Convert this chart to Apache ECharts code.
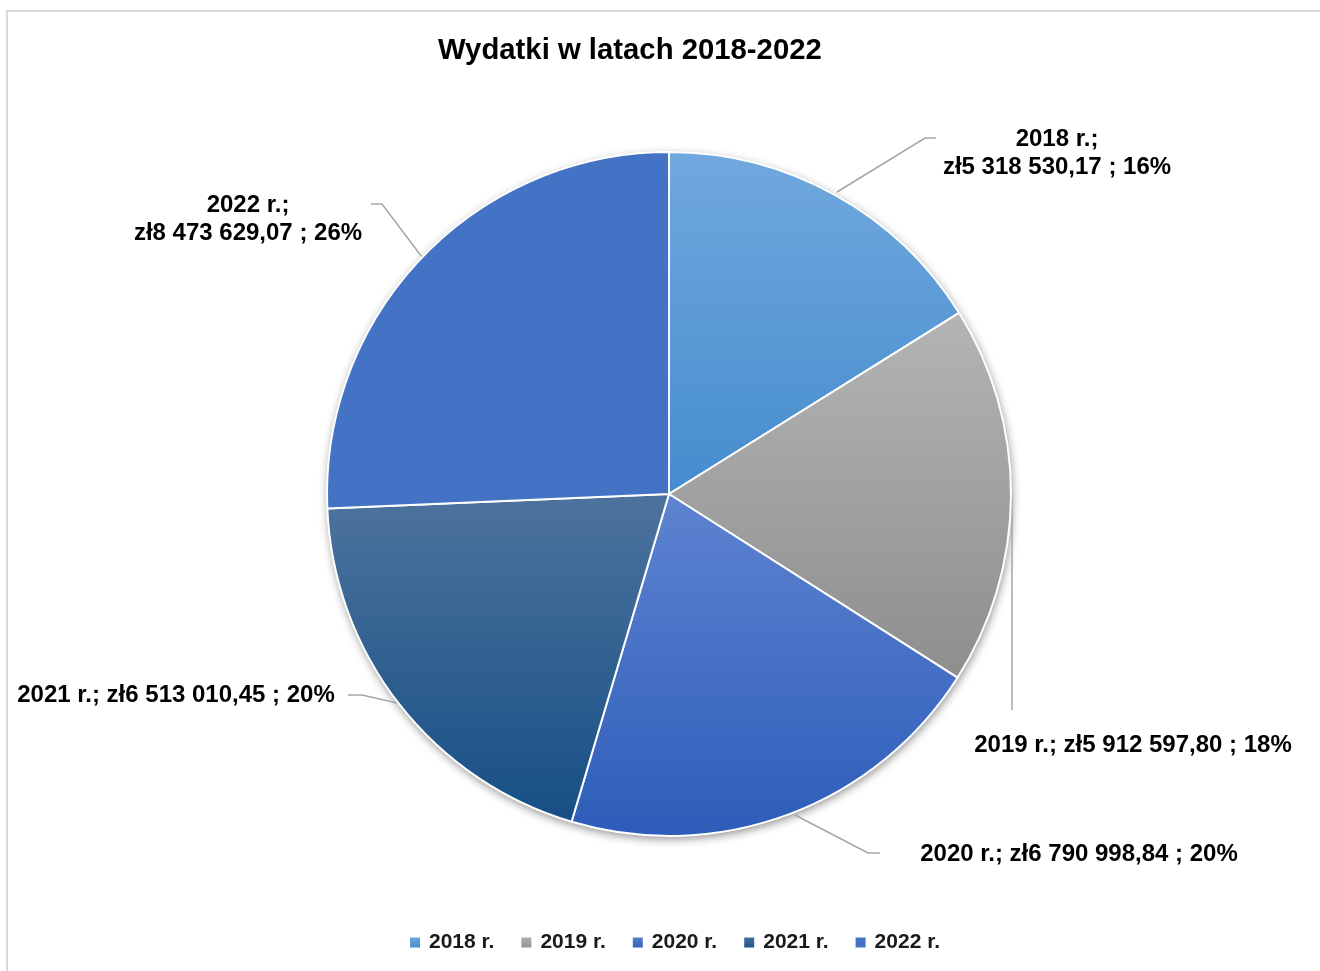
<!DOCTYPE html>
<html>
<head>
<meta charset="utf-8">
<script src="https://cdn.jsdelivr.net/npm/echarts@6/dist/echarts.min.js"></script>
<style>
html,body{margin:0;padding:0;background:#fff;}
#chart{width:1320px;height:971px;}
</style>
</head>
<body>
<div id="chart"></div>
<script>
// ---- data ----
const categories = ['2018 r.', '2019 r.', '2020 r.', '2021 r.', '2022 r.'];
const values = [5318530.17, 5912597.80, 6790998.84, 6513010.45, 8473629.07];
const percentLabels = ['16%', '18%', '20%', '20%', '26%'];
const titleText = 'Wydatki w latach 2018-2022';
const currency = 'zł';

// ---- styles / layout ----
const gradients = [
  ['#71a8de', '#448ccd'],
  ['#b4b4b4', '#8e8e8e'],
  ['#5e83d1', '#2d5db9'],
  ['#4d739d', '#164f85'],
  ['#4472c4', '#4472c4']
];
const labelLayoutCfg = [
  { x: 1057, y: 153, wrap: true,  line: [[837,192],[925,138],[936,138]] },
  { x: 1133, y: 745, wrap: false, line: [[1012,494],[1012,710]] },
  { x: 1079, y: 854, wrap: false, line: [[795,815],[868,853],[880,853]] },
  { x: 176,  y: 695, wrap: false, line: [[397,703],[362,695],[348,695]] },
  { x: 248,  y: 219, wrap: true,  line: [[422,257],[382,204],[371,204]] }
];

function fmtMoney(v) {
  const parts = v.toFixed(2).split('.');
  const intPart = parts[0].replace(/\B(?=(\d{3})+(?!\d))/g, ' ');
  return intPart + ',' + parts[1];
}

const FONT = '"Liberation Sans", Arial, sans-serif';

const chart = echarts.init(document.getElementById('chart'), null, { renderer: 'canvas' });

const pieData = categories.map((c, i) => ({
  name: c,
  value: values[i],
  itemStyle: {
    color: new echarts.graphic.LinearGradient(0, 0, 0, 1, [
      { offset: 0, color: gradients[i][0] },
      { offset: 1, color: gradients[i][1] }
    ])
  }
}));

chart.setOption({
  animation: false,
  backgroundColor: '#ffffff',
  graphic: [{
    type: 'rect',
    shape: { x: 7, y: 11, width: 1400, height: 1100 },
    style: { fill: 'none', stroke: '#d9d9d9', lineWidth: 2 },
    z: -10, silent: true
  }],
  title: {
    text: titleText,
    left: 438,
    top: 36,
    padding: 0,
    textStyle: { fontFamily: FONT, fontSize: 29.3, fontWeight: 'bold', color: '#000' }
  },
  legend: {
    data: categories,
    left: 408,
    top: 932,
    padding: 0,
    itemGap: 25,
    itemWidth: 12,
    itemHeight: 12,
    icon: 'rect',
    textStyle: { fontFamily: FONT, fontSize: 21, fontWeight: 'bold', color: '#1a1a1a', padding: [0, 0, 0, 3] }
  },
  series: [
    {
      type: 'pie',
      name: 'shadow',
      silent: true,
      center: [669, 494],
      radius: 342,
      z: 1,
      label: { show: false },
      labelLine: { show: false },
      data: [{ value: 1, name: '__bg', itemStyle: {
        color: '#ffffff', shadowBlur: 10, shadowColor: 'rgba(0,0,0,0.45)', shadowOffsetX: 1, shadowOffsetY: 3
      } }]
    },
    {
      type: 'pie',
      center: [669, 494],
      radius: 342,
      startAngle: 90,
      clockwise: true,
      z: 2,
      itemStyle: { borderColor: '#ffffff', borderWidth: 2 },
      label: {
        show: true,
        position: 'outside',
        overflow: 'none',
        fontFamily: FONT,
        fontSize: 24,
        fontWeight: 'bold',
        color: '#000',
        lineHeight: 28,
        align: 'center',
        formatter: p => {
          const i = p.dataIndex;
          const sep = labelLayoutCfg[i].wrap ? '\n' : ' ';
          return p.name + ';' + sep + currency + fmtMoney(p.value) + ' ; ' + percentLabels[i];
        }
      },
      labelLine: {
        show: true,
        lineStyle: { color: '#a6a6a6', width: 1.5 }
      },
      labelLayout: params => {
        const c = labelLayoutCfg[params.dataIndex];
        return {
          x: c.x, y: c.y, align: 'center', verticalAlign: 'middle',
          labelLinePoints: c.line
        };
      },
      emphasis: { disabled: true },
      data: pieData
    }
  ]
});
</script>
</body>
</html>
